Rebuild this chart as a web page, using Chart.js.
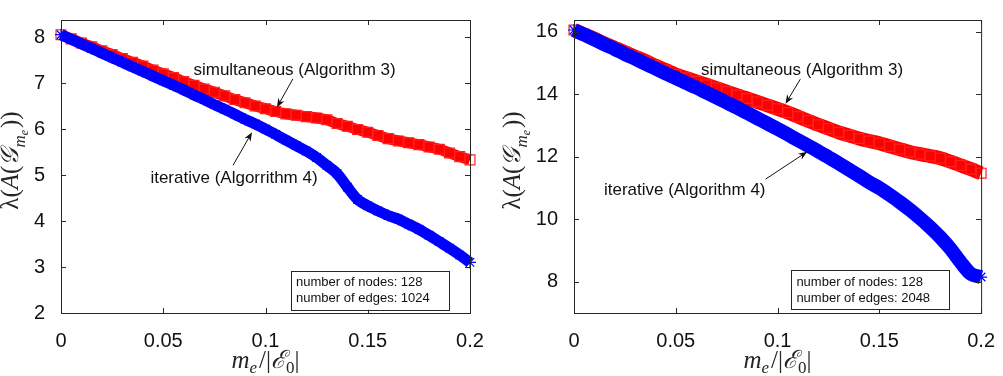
<!DOCTYPE html>
<html>
<head>
<meta charset="utf-8">
<script src="https://cdn.jsdelivr.net/npm/chart.js@4.4.1/dist/chart.umd.min.js"></script>
<style>
  body { margin: 0; background: #fff; }
  #wrap { position: relative; width: 1003px; height: 376px; }
  #left { position: absolute; left: 0; top: 0; }
  #right { position: absolute; left: 500px; top: 0; }
</style>
</head>
<body>
<div id="wrap">
  <canvas id="left" width="500" height="376"></canvas>
  <canvas id="right" width="503" height="376"></canvas>
</div>
<script>
// m_e / |E_0|
var meX = [0, 0.005, 0.01, 0.015, 0.02, 0.025, 0.03, 0.035, 0.04, 0.045, 0.05, 0.055, 0.06, 0.065, 0.07, 0.075, 0.08, 0.085, 0.09, 0.095,
           0.1, 0.105, 0.11, 0.115, 0.12, 0.125, 0.13, 0.135, 0.14, 0.145, 0.15, 0.155, 0.16, 0.165, 0.17, 0.175, 0.18, 0.185, 0.19, 0.195, 0.2];

// 128 nodes, 1024 edges
var simLeft = [8.05, 7.96, 7.87, 7.79, 7.70, 7.62, 7.53, 7.45, 7.37, 7.28, 7.20, 7.12, 7.03, 6.95, 6.87, 6.80, 6.72, 6.64, 6.57, 6.50,
               6.44, 6.38, 6.33, 6.30, 6.27, 6.24, 6.20, 6.12, 6.06, 5.99, 5.93, 5.86, 5.79, 5.74, 5.70, 5.66, 5.61, 5.56, 5.48, 5.40, 5.33];
var iterLeft = [8.05, 7.95, 7.85, 7.75, 7.65, 7.55, 7.45, 7.35, 7.25, 7.15, 7.05, 6.95, 6.85, 6.74, 6.64, 6.53, 6.43, 6.32, 6.21, 6.11,
                6.00, 5.88, 5.76, 5.64, 5.52, 5.38, 5.21, 5.03, 4.74, 4.47, 4.33, 4.22, 4.12, 4.04, 3.93, 3.82, 3.69, 3.55, 3.41, 3.26, 3.10];

// 128 nodes, 2048 edges
var simRight = [16.05, 15.91, 15.77, 15.62, 15.48, 15.34, 15.20, 15.06, 14.91, 14.77, 14.63, 14.52, 14.41, 14.30, 14.19, 14.08, 13.97, 13.86, 13.75, 13.64,
                13.53, 13.41, 13.28, 13.15, 13.02, 12.90, 12.78, 12.68, 12.58, 12.50, 12.43, 12.33, 12.24, 12.15, 12.08, 12.02, 11.95, 11.84, 11.72, 11.60, 11.47];
var iterRight = [16.05, 15.90, 15.75, 15.59, 15.44, 15.28, 15.13, 14.97, 14.82, 14.66, 14.51, 14.36, 14.21, 14.05, 13.89, 13.73, 13.57, 13.40, 13.23, 13.06,
                 12.89, 12.71, 12.53, 12.35, 12.17, 11.98, 11.79, 11.59, 11.39, 11.18, 11.00, 10.78, 10.55, 10.30, 10.03, 9.74, 9.42, 9.05, 8.62, 8.25, 8.15];

var xTicks = [0, 0.05, 0.1, 0.15, 0.2];
var yTicksLeft = [2, 3, 4, 5, 6, 7, 8];
var yTicksRight = [8, 10, 12, 14, 16];

var simLabel = "simultaneous (Algorithm 3)";
var iterLabelLeft = "iterative (Algorrithm 4)";
var iterLabelRight = "iterative (Algorithm 4)";
var boxLeft = ["number of nodes: 128", "number of edges: 1024"];
var boxRight = ["number of nodes: 128", "number of edges: 2048"];

var AX = "#262626";
var SANS = "'Liberation Sans', Arial, Helvetica, sans-serif";
var SERIF = "'Liberation Serif', 'DejaVu Serif', serif";

function pts(xs, ys) {
    return xs.map(function (x, i) { return { x: x, y: ys[i] }; });
}

// draw a run of text pieces (for the math-ish axis titles)
function drawMath(ctx, parts, cx, cy, rot) {
    ctx.save();
    ctx.translate(cx, cy);
    if (rot) ctx.rotate(-Math.PI / 2);
    ctx.fillStyle = AX;
    ctx.textBaseline = "alphabetic";
    ctx.textAlign = "left";
    var total = 0;
    parts.forEach(function (p) { ctx.font = p.f; p.w = ctx.measureText(p.t).width + (p.gap || 0); total += p.w; });
    var x = -total / 2;
    parts.forEach(function (p) {
        ctx.font = p.f;
        ctx.fillText(p.t, x, p.dy || 0);
        x += p.w;
    });
    ctx.restore();
}

function arrow(ctx, x1, y1, x2, y2) {
    var a = Math.atan2(y2 - y1, x2 - x1);
    var L = 9, W = 3.5;
    ctx.beginPath();
    ctx.moveTo(x1, y1);
    ctx.lineTo(x2 - Math.cos(a) * 4, y2 - Math.sin(a) * 4);
    ctx.stroke();
    ctx.beginPath();
    ctx.moveTo(x2, y2);
    ctx.lineTo(x2 - L * Math.cos(a) + W * Math.sin(a), y2 - L * Math.sin(a) - W * Math.cos(a));
    ctx.lineTo(x2 - L * 0.7 * Math.cos(a), y2 - L * 0.7 * Math.sin(a));
    ctx.lineTo(x2 - L * Math.cos(a) - W * Math.sin(a), y2 - L * Math.sin(a) + W * Math.cos(a));
    ctx.closePath();
    ctx.fill();
}

var frame = {
    id: "frame",
    afterDraw: function (chart) {
        var ctx = chart.ctx, a = chart.chartArea;
        var xs = chart.scales.x, ys = chart.scales.y;
        var o = chart.options.plugins.frame;
        ctx.save();
        ctx.strokeStyle = AX;
        ctx.lineWidth = 1;
        ctx.strokeRect(a.left + 0.5, a.top + 0.5, a.right - a.left, a.bottom - a.top);
        ctx.beginPath();
        xTicks.forEach(function (v) {
            var px = Math.round(xs.getPixelForValue(v)) + 0.5;
            ctx.moveTo(px, a.bottom); ctx.lineTo(px, a.bottom - 5);
            ctx.moveTo(px, a.top); ctx.lineTo(px, a.top + 5);
        });
        o.yTicks.forEach(function (v) {
            var py = Math.round(ys.getPixelForValue(v)) + 0.5;
            ctx.moveTo(a.left, py); ctx.lineTo(a.left + 5, py);
            ctx.moveTo(a.right, py); ctx.lineTo(a.right - 5, py);
        });
        ctx.stroke();

        // annotations
        ctx.fillStyle = "#111";
        ctx.strokeStyle = "#111";
        ctx.font = "17px " + SANS;
        ctx.textAlign = "center";
        ctx.textBaseline = "middle";
        o.notes.forEach(function (n) {
            ctx.fillText(n.text, xs.getPixelForValue(n.at[0]), ys.getPixelForValue(n.at[1]));
            arrow(ctx, xs.getPixelForValue(n.from[0]), ys.getPixelForValue(n.from[1]),
                xs.getPixelForValue(n.to[0]), ys.getPixelForValue(n.to[1]));
        });

        // info box
        var b = o.box;
        var bx1 = xs.getPixelForValue(b.x[0]), bx2 = xs.getPixelForValue(b.x[1]);
        var by1 = ys.getPixelForValue(b.y[0]), by2 = ys.getPixelForValue(b.y[1]);
        ctx.fillStyle = "#fff";
        ctx.fillRect(bx1, by1, bx2 - bx1, by2 - by1);
        ctx.strokeStyle = AX;
        ctx.strokeRect(Math.round(bx1) + 0.5, Math.round(by1) + 0.5, Math.round(bx2 - bx1), Math.round(by2 - by1));
        ctx.fillStyle = "#111";
        ctx.font = "13px " + SANS;
        ctx.textAlign = "left";
        ctx.textBaseline = "middle";
        b.lines.forEach(function (t, i) { ctx.fillText(t, bx1 + 5, by1 + 12 + i * 16); });

        // axis titles
        var f = "25px " + SERIF, fi = "italic 25px " + SERIF, fs = "italic 17px " + SERIF, fss = "italic 12px " + SERIF;
        drawMath(ctx, [
            { t: "m", f: fi }, { t: "e", f: fs, dy: 5, gap: 2 }, { t: "/|", f: f }, { t: "\u2130", f: fi },
            { t: "0", f: "17px " + SERIF, dy: 5 }, { t: "|", f: f }
        ], (a.left + a.right) / 2, 368, false);
        drawMath(ctx, [
            { t: "\u03bb(", f: f }, { t: "A", f: fi }, { t: "(", f: f }, { t: "\ud835\udca2", f: fi },
            { t: "m", f: fs, dy: 7 }, { t: "e", f: fss, dy: 10, gap: 2 }, { t: "))", f: f }
        ], o.titleX, (a.top + a.bottom) / 2 - 6, true);
        ctx.restore();
    }
};

function makeChart(id, sim, iter, o) {
    return new Chart(document.getElementById(id), {
        type: "line",
        data: {
            datasets: [
                {
                    label: "iterative",
                    data: pts(meX, iter),
                    borderColor: "#0000ff",
                    borderWidth: o.band,
                    pointStyle: "star",
                    pointRadius: 6,
                    pointBorderColor: "#0000ff",
                    pointBorderWidth: 1.2,
                    pointBackgroundColor: "#0000ff",
                    tension: 0.3,
                    clip: false
                },
                {
                    label: "simultaneous",
                    data: pts(meX, sim),
                    borderColor: "#ff0000",
                    borderWidth: o.band,
                    pointStyle: "rect",
                    pointRadius: 7,
                    pointBorderColor: "#ff2020",
                    pointBorderWidth: 1.2,
                    pointBackgroundColor: "rgba(255,0,0,0)",
                    tension: 0.3,
                    clip: false
                }
            ]
        },
        options: {
            responsive: false,
            animation: false,
            layout: { padding: { top: 5, right: o.padRight, left: 0, bottom: 0 } },
            plugins: {
                legend: { display: false },
                tooltip: { enabled: false },
                frame: o
            },
            scales: {
                x: {
                    type: "linear",
                    min: 0,
                    max: 0.2,
                    afterBuildTicks: function (s) { s.ticks = xTicks.map(function (v) { return { value: v }; }); },
                    afterFit: function (s) { s.height = 63; },
                    grid: { display: false },
                    border: { display: false },
                    ticks: {
                        color: "#111",
                        font: { family: SANS, size: 20 },
                        padding: 8,
                        maxRotation: 0,
                        callback: function (v) { return String(v); }
                    }
                },
                y: {
                    min: o.yMin,
                    max: o.yMax,
                    afterBuildTicks: function (s) { s.ticks = o.yTicks.map(function (v) { return { value: v }; }); },
                    afterFit: function (s) { s.width = o.yWidth; },
                    grid: { display: false },
                    border: { display: false },
                    ticks: {
                        color: "#111",
                        font: { family: SANS, size: 20 },
                        padding: 8,
                        callback: function (v) { return String(v); }
                    }
                }
            }
        },
        plugins: [frame]
    });
}

makeChart("left", simLeft, iterLeft, {
    yMin: 2, yMax: 8.37, yTicks: yTicksLeft, yWidth: 61, padRight: 30, band: 11, titleX: 18,
    notes: [
        { text: simLabel, at: [0.1142, 7.28], from: [0.1134, 7.09], to: [0.1056, 6.47] },
        { text: iterLabelLeft, at: [0.0846, 4.92], from: [0.0841, 5.21], to: [0.0934, 5.93] }
    ],
    box: { x: [0.1125, 0.1897], y: [2.92, 2.07], lines: boxLeft }
});

makeChart("right", simRight, iterRight, {
    yMin: 7, yMax: 16.37, yTicks: yTicksRight, yWidth: 74, padRight: 19, band: 14, titleX: 20,
    notes: [
        { text: simLabel, at: [0.112, 14.75], from: [0.1112, 14.48], to: [0.1039, 13.69] },
        { text: iterLabelRight, at: [0.0544, 10.92], from: [0.0941, 11.28], to: [0.1146, 12.16] }
    ],
    box: { x: [0.1068, 0.1844], y: [8.36, 7.11], lines: boxRight }
});
</script>
</body>
</html>
